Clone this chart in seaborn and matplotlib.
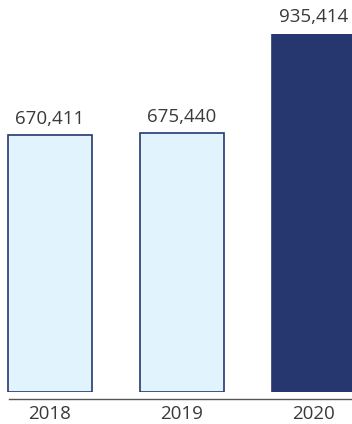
import matplotlib
matplotlib.use("Agg")
import matplotlib.pyplot as plt
import seaborn as sns
import pandas as pd

years = ["2018", "2019", "2020"]
values = [670411, 675440, 935414]
labels = ["670,411", "675,440", "935,414"]
fills = ["#E1F3FC", "#E1F3FC", "#263770"]
edge = "#263770"

sns.set_theme(style="white")
plt.rcParams['font.family'] = ['Open Sans', 'DejaVu Sans']

df = pd.DataFrame({"year": years, "value": values})

fig = plt.figure(figsize=(3.52, 4.24), dpi=100)
H = 424.0
ax = fig.add_axes([0, (H - 392) / H, 1, (392 - 34) / H])

sns.barplot(data=df, x="year", y="value", hue="year", palette=fills,
            edgecolor=edge, linewidth=1.2, width=84 / 132, legend=False,
            saturation=1, ax=ax)

ax.set_xlim(-50 / 132, (352 - 50) / 132)
ax.set_ylim(0, values[2])

for i, (v, t) in enumerate(zip(values, labels)):
    ax.annotate(t, (i, v), xytext=(0, 8.5), textcoords="offset points",
                ha="center", va="baseline", fontsize=13.5, color="#3a3a3a")

for s in ["top", "right", "left"]:
    ax.spines[s].set_visible(False)
ax.spines["bottom"].set_position(("outward", 5.2))
ax.spines["bottom"].set_color("#555555")
ax.spines["bottom"].set_linewidth(1.0)
ax.spines["bottom"].set_bounds((9 - 50) / 132, (352 - 50) / 132)
ax.set_yticks([])
ax.set_xlabel("")
ax.set_ylabel("")
ax.tick_params(axis="x", length=0, pad=4, labelsize=13.5, labelcolor="#3a3a3a")

fig.savefig("out.png", dpi=100)
